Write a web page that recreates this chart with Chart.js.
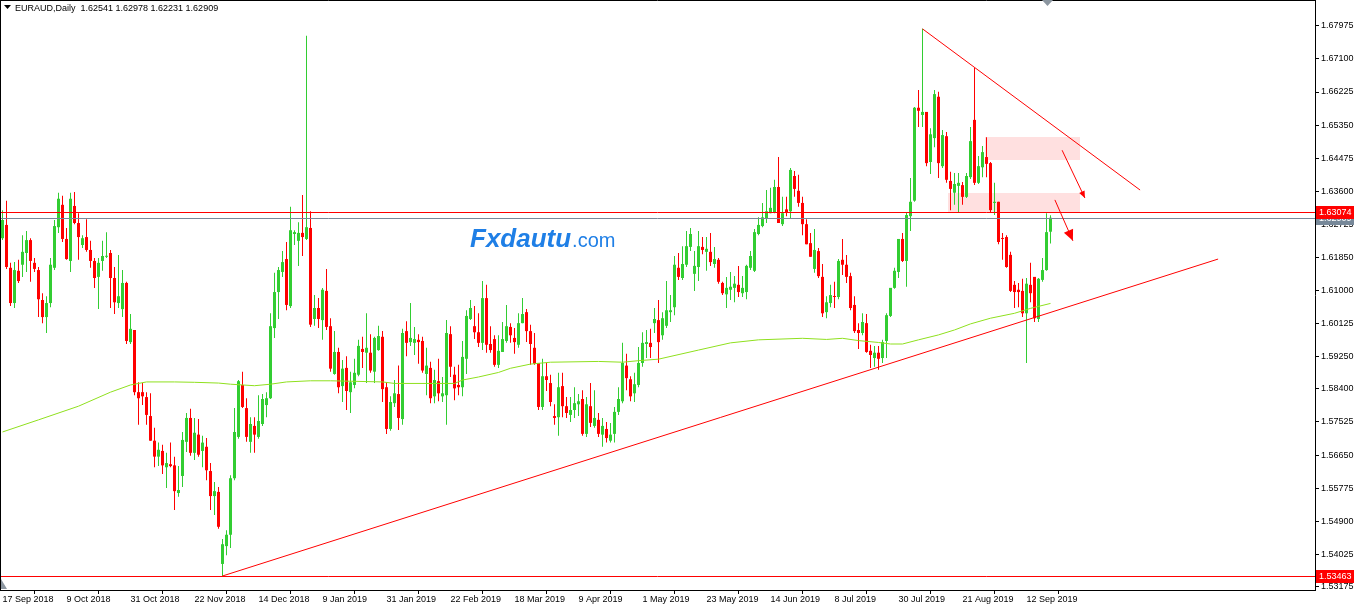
<!DOCTYPE html>
<html><head><meta charset="utf-8">
<script src="https://cdn.jsdelivr.net/npm/chart.js@4.4.1/dist/chart.umd.min.js"></script>
<style>html,body{margin:0;padding:0;background:#fff;overflow:hidden}canvas{display:block}</style>
</head><body>
<canvas id="c" width="1354" height="605"></canvas>
<script>
const symbolTitle = 'EURAUD,Daily';
const lastOHLC = [1.62541, 1.62978, 1.62231, 1.62909];

const openP = [
1.6237,1.6272,1.6159,1.6066,1.6151,1.6167,1.6198,1.6232,1.6172,1.6153,
1.6074,1.6029,1.6066,1.6159,1.6266,1.6325,1.6235,1.6177,1.6322,1.6277,
1.6219,1.6240,1.6206,1.6177,1.6135,1.6177,1.6188,1.6198,1.6132,1.6066,
1.6050,1.6119,1.5963,1.5995,1.5831,1.5831,1.5818,1.5768,1.5703,1.5661,
1.5676,1.5633,1.5641,1.5638,1.5565,1.5610,1.5700,1.5763,1.5671,1.5719,
1.5676,1.5687,1.5623,1.5557,1.5568,1.5378,1.5425,1.5455,1.5604,1.5713,
1.5850,1.5789,1.5700,1.5742,1.5713,1.5747,1.5797,1.5815,1.6000,1.6095,
1.6148,1.6182,1.6058,1.6248,1.6230,1.6251,1.6235,1.6264,1.6024,1.6053,
1.6021,1.6098,1.6005,1.5879,1.5937,1.5847,1.5895,1.5831,1.5850,1.5877,
1.5945,1.5935,1.5935,1.5885,1.5942,1.5977,1.5844,1.5734,1.5802,1.5826,
1.5760,1.5992,1.5963,1.5961,1.5969,1.5966,1.5879,1.5895,1.5820,1.5860,
1.5820,1.5823,1.5984,1.5877,1.5850,1.5844,1.5919,1.6024,1.6005,1.5989,
1.5961,1.6079,1.5958,1.5971,1.5903,1.5937,1.5966,1.6003,1.5974,1.5956,
1.6013,1.6042,1.5992,1.5948,1.5908,1.5792,1.5873,1.5855,1.5768,1.5765,
1.5847,1.5794,1.5771,1.5784,1.5799,1.5813,1.5721,1.5794,1.5742,1.5758,
1.5719,1.5734,1.5703,1.5721,1.5779,1.5807,1.5901,1.5865,1.5828,1.5850,
1.5908,1.5958,1.5961,1.6013,1.6021,1.5981,1.6006,1.6042,1.6055,1.6159,
1.6132,1.6167,1.6214,1.6143,1.6161,1.6214,1.6201,1.6201,1.6169,1.6180,
1.6119,1.6089,1.6101,1.6106,1.6114,1.6092,1.6095,1.6159,1.6151,1.6248,
1.6269,1.6290,1.6303,1.6306,1.6372,1.6274,1.6313,1.6308,1.6401,1.6362,
1.6330,1.6274,1.6224,1.6156,1.6203,1.6135,1.6042,1.6066,1.6084,1.6082,
1.6180,1.6167,1.6137,1.6061,1.5995,1.5987,1.6013,1.5940,1.5921,1.5935,
1.5921,1.5966,1.6032,1.6106,1.6148,1.6235,1.6177,1.6295,1.6336,1.6581,
1.6562,1.6570,1.6438,1.6501,1.6610,1.6427,1.6506,1.6388,1.6357,1.6375,
1.6377,1.6346,1.6398,1.6549,1.6383,1.6424,1.6451,1.6435,1.6330,1.6333,
1.6237,1.6240,1.6193,1.6114,1.6101,1.6098,1.6039,1.6114,1.6135,1.6024,
1.6127,1.6153,1.62541];

const highP = [
1.6311,1.6336,1.6172,1.6174,1.6180,1.6245,1.6256,1.6237,1.6185,1.6161,
1.6092,1.6084,1.6185,1.6285,1.6357,1.6349,1.6264,1.6357,1.6359,1.6303,
1.6245,1.6287,1.6230,1.6185,1.6185,1.6230,1.6253,1.6206,1.6161,1.6193,
1.6153,1.6122,1.6037,1.5995,1.5857,1.5855,1.5831,1.5828,1.5737,1.5698,
1.5692,1.5671,1.5698,1.5661,1.5636,1.5726,1.5776,1.5787,1.5763,1.5760,
1.5716,1.5710,1.5644,1.5594,1.5581,1.5444,1.5467,1.5612,1.5789,1.5863,
1.5885,1.5815,1.5765,1.5765,1.5823,1.5826,1.5831,1.6039,1.6146,1.6161,
1.6203,1.6227,1.6320,1.6258,1.6279,1.6351,1.6771,1.6308,1.6087,1.6079,
1.6106,1.6156,1.6026,1.5992,1.5948,1.5916,1.5926,1.5885,1.5919,1.5969,
1.5977,1.6039,1.5984,1.5977,1.6006,1.5992,1.5857,1.5820,1.5863,1.5901,
1.5998,1.6018,1.6066,1.6003,1.5984,1.5977,1.5948,1.5911,1.5890,1.5919,
1.5871,1.6021,1.6005,1.5898,1.5903,1.5966,1.6047,1.6074,1.6058,1.6039,
1.6124,1.6114,1.6005,1.5981,1.5981,1.6016,1.6061,1.6013,1.6000,1.6039,
1.6079,1.6050,1.6009,1.5987,1.5908,1.5919,1.5908,1.5877,1.5799,1.5882,
1.5882,1.5818,1.5818,1.5844,1.5826,1.5836,1.5818,1.5855,1.5836,1.5776,
1.5763,1.5752,1.5750,1.5792,1.5844,1.5961,1.5932,1.5873,1.5882,1.5950,
1.5989,1.5995,1.5998,1.6053,1.6074,1.6042,1.6124,1.6087,1.6190,1.6198,
1.6216,1.6256,1.6264,1.6203,1.6256,1.6240,1.6240,1.6251,1.6214,1.6185,
1.6122,1.6135,1.6148,1.6137,1.6164,1.6137,1.6167,1.6203,1.6261,1.6292,
1.6330,1.6364,1.6370,1.6391,1.6451,1.6346,1.6346,1.6422,1.6414,1.6404,
1.6346,1.6287,1.6251,1.6261,1.6211,1.6169,1.6084,1.6114,1.6122,1.6182,
1.6235,1.6193,1.6146,1.6084,1.6013,1.6039,1.6037,1.5956,1.5953,1.5953,
1.5969,1.6039,1.6106,1.6159,1.6235,1.6251,1.6306,1.6396,1.6583,1.6628,
1.6789,1.6570,1.6527,1.6628,1.6623,1.6522,1.6517,1.6412,1.6409,1.6409,
1.6385,1.6409,1.6530,1.6686,1.6454,1.6480,1.6503,1.6438,1.6383,1.6333,
1.6251,1.6245,1.6201,1.6124,1.6119,1.6130,1.6132,1.6172,1.6135,1.6132,
1.6185,1.6303,1.62978];

const lowP = [
1.6232,1.6156,1.6058,1.6053,1.6119,1.6135,1.6148,1.6122,1.6148,1.6029,
1.6013,1.5987,1.6055,1.6153,1.6251,1.6227,1.6180,1.6148,1.6274,1.6180,
1.6211,1.6201,1.6159,1.6106,1.6050,1.6151,1.6185,1.6053,1.6037,1.6053,
1.6029,1.5958,1.5958,1.5823,1.5745,1.5797,1.5745,1.5703,1.5633,1.5636,
1.5615,1.5578,1.5633,1.5520,1.5555,1.5581,1.5673,1.5663,1.5652,1.5661,
1.5633,1.5599,1.5520,1.5507,1.5471,1.53463,1.5401,1.5420,1.5599,1.5708,
1.5789,1.5700,1.5671,1.5671,1.5708,1.5742,1.5765,1.5813,1.5974,1.6024,
1.6135,1.6047,1.6053,1.6219,1.6164,1.6190,1.6232,1.6003,1.6006,1.6000,
1.5969,1.5995,1.5885,1.5877,1.5828,1.5805,1.5784,1.5776,1.5841,1.5873,
1.5895,1.5855,1.5882,1.5855,1.5940,1.5805,1.5721,1.5729,1.5792,1.5731,
1.5745,1.5926,1.5953,1.5929,1.5906,1.5882,1.5823,1.5802,1.5802,1.5807,
1.5805,1.5745,1.5871,1.5810,1.5823,1.5820,1.5879,1.6021,1.5971,1.5950,
1.5942,1.5935,1.5935,1.5898,1.5895,1.5937,1.5961,1.5961,1.5932,1.5948,
1.6013,1.5963,1.5903,1.5903,1.5784,1.5784,1.5834,1.5794,1.5745,1.5716,
1.5765,1.5763,1.5752,1.5763,1.5768,1.5716,1.5713,1.5739,1.5737,1.5713,
1.5687,1.5698,1.5698,1.5698,1.5771,1.5802,1.5836,1.5807,1.5805,1.5844,
1.5898,1.5921,1.5921,1.5987,1.5908,1.5969,1.6000,1.6016,1.6034,1.6127,
1.6127,1.6161,1.6203,1.6098,1.6124,1.6195,1.6151,1.6164,1.6159,1.6117,
1.6087,1.6053,1.6074,1.6068,1.6082,1.6082,1.6076,1.6153,1.6148,1.6245,
1.6266,1.6277,1.6303,1.6303,1.6277,1.6269,1.6295,1.6290,1.6346,1.6320,
1.6245,1.6221,1.6188,1.6146,1.6132,1.6029,1.6026,1.6055,1.6053,1.6076,
1.6140,1.6119,1.6047,1.5987,1.5945,1.5981,1.5935,1.5895,1.5898,1.5890,
1.5908,1.5921,1.6029,1.6104,1.6132,1.6174,1.6109,1.6256,1.6333,1.6530,
1.6530,1.6427,1.6406,1.6477,1.6396,1.6422,1.6383,1.6311,1.6325,1.6306,
1.6325,1.6343,1.6393,1.6377,1.6380,1.6398,1.6398,1.6306,1.6298,1.6221,
1.6180,1.6159,1.6095,1.6053,1.6055,1.6029,1.5908,1.6068,1.6016,1.6016,
1.6122,1.6151,1.62231];

const closeP = [
1.6285,1.6161,1.6066,1.6153,1.6124,1.6201,1.6232,1.6177,1.6156,1.6076,
1.6029,1.6066,1.6167,1.6269,1.6341,1.6235,1.6182,1.6341,1.6277,1.6240,
1.6237,1.6206,1.6177,1.6132,1.6172,1.6190,1.6190,1.6132,1.6068,1.6084,
1.6119,1.5966,1.5998,1.5831,1.5815,1.5820,1.5771,1.5703,1.5661,1.5679,
1.5638,1.5644,1.5636,1.5570,1.5573,1.5705,1.5763,1.5671,1.5724,1.5666,
1.5698,1.5625,1.5557,1.5570,1.5476,1.5430,1.5455,1.5604,1.5726,1.5860,
1.5792,1.5713,1.5747,1.5719,1.5755,1.5813,1.5815,1.6005,1.6095,1.6153,
1.6174,1.6061,1.6258,1.6253,1.6251,1.6240,1.6266,1.6009,1.6053,1.6024,
1.6101,1.6003,1.5893,1.5937,1.5844,1.5893,1.5834,1.5857,1.5882,1.5953,
1.5937,1.5948,1.5888,1.5974,1.5979,1.5839,1.5734,1.5805,1.5828,1.5763,
1.5987,1.5961,1.5974,1.5971,1.5963,1.5888,1.5901,1.5815,1.5863,1.5828,
1.5828,1.5987,1.5898,1.5841,1.5844,1.5924,1.6032,1.6053,1.5989,1.5961,
1.6079,1.5956,1.5942,1.5903,1.5940,1.5971,1.6005,1.5981,1.5963,1.6013,
1.6037,1.5992,1.5958,1.5906,1.5792,1.5873,1.5863,1.5805,1.5763,1.5844,
1.5794,1.5776,1.5784,1.5802,1.5807,1.5721,1.5799,1.5750,1.5763,1.5721,
1.5742,1.5710,1.5719,1.5779,1.5813,1.5908,1.5868,1.5820,1.5852,1.5908,
1.5961,1.5963,1.5950,1.6024,1.5963,1.6026,1.6047,1.6047,1.6167,1.6135,
1.6169,1.6216,1.6248,1.6164,1.6216,1.6206,1.6209,1.6174,1.6182,1.6122,
1.6092,1.6106,1.6109,1.6117,1.6095,1.6106,1.6164,1.6190,1.6253,1.6272,
1.6292,1.6308,1.6317,1.6372,1.6277,1.6303,1.6306,1.6417,1.6367,1.6330,
1.6274,1.6221,1.6188,1.6206,1.6137,1.6039,1.6068,1.6087,1.6082,1.6177,
1.6167,1.6135,1.6053,1.5992,1.5987,1.6016,1.5937,1.5929,1.5935,1.5919,
1.5963,1.6034,1.6106,1.6151,1.6235,1.6177,1.6298,1.6333,1.6581,1.6573,
1.6570,1.6435,1.6511,1.6617,1.6435,1.6509,1.6391,1.6367,1.6380,1.6383,
1.6346,1.6401,1.6493,1.6383,1.6427,1.6464,1.6433,1.6311,1.6333,1.6227,
1.6235,1.6161,1.6098,1.6095,1.6095,1.6039,1.6117,1.6092,1.6026,1.6130,
1.6153,1.6253,1.62909];

const xTickIdx = [1,17,33,49,65,81,97,113,129,145,161,177,193,209,225,241,257];
const xTickLabels = ['17 Sep 2018','9 Oct 2018','31 Oct 2018','22 Nov 2018','14 Dec 2018','9 Jan 2019','31 Jan 2019','22 Feb 2019','18 Mar 2019','9 Apr 2019','1 May 2019','23 May 2019','14 Jun 2019','8 Jul 2019','30 Jul 2019','21 Aug 2019','12 Sep 2019'];
const yTickValues = [1.67975,1.67100,1.66225,1.65350,1.64475,1.63600,1.62725,1.61850,1.61000,1.60125,1.59250,1.58400,1.57525,1.56650,1.55775,1.54900,1.54025,1.53175];

const maIdx = [1,10,20,28,33,37,44,49,55,58,64,68,72,78,83,96,99,110,114,116,120,125,128,133,138,150,156,160,165,175,183,190,201,207,211,215,220,223,226,230,235,239,243,248,254,258,263];
const maVal = [1.5726,1.5758,1.5794,1.5831,1.5850,1.5858,1.5858,1.5857,1.5855,1.5852,1.5848,1.5852,1.5858,1.5861,1.5861,1.5858,1.5854,1.5854,1.5854,1.5863,1.5871,1.5883,1.5894,1.5905,1.5910,1.5912,1.5910,1.5914,1.5918,1.5942,1.5961,1.5969,1.5973,1.5970,1.5973,1.5967,1.5962,1.5958,1.5958,1.5969,1.5982,1.5995,1.6011,1.6026,1.6039,1.6052,1.6065];

const supportLine = [[56, 1.53463], [304.9, 1.6182]];
const resistLine = [[231, 1.6789], [285.4, 1.6364]];
const zoneA = [246.6, 270.4, 1.6504, 1.6443];
const zoneB = [237.4, 270.4, 1.6357, 1.63074];
const arrowA = [265.9, 1.6469, 271.6, 1.6343];
const arrowB = [264.1, 1.6338, 268.6, 1.6230];
const levelLines = [1.63074, 1.62909, 1.53463];

const FONT = '"Liberation Sans", Arial, sans-serif';
Chart.defaults.font.family = FONT;
Chart.defaults.font.size = 9;
Chart.defaults.color = '#000';

const UP = '#32cd32', DOWN = '#ff0000';
const idx = openP.map((_, k) => k + 1);
const candleColor = idx.map((_, k) => closeP[k] >= openP[k] ? UP : DOWN);

function clipArea(ctx, a) {
  ctx.beginPath(); ctx.rect(a.left, a.top, a.right - a.left, a.bottom - a.top); ctx.clip();
}

const overlay = {
  id: 'overlay',
  beforeDatasetsDraw(chart) {
    const {ctx, chartArea: a, scales: {x, y}} = chart;
    ctx.save(); clipArea(ctx, a);
    ctx.fillStyle = '#ffe0e0';
    for (const z of [zoneA, zoneB]) {
      const x0 = Math.round(x.getPixelForValue(z[0])), x1 = Math.round(x.getPixelForValue(z[1]));
      const y0 = Math.round(y.getPixelForValue(z[2])), y1 = Math.round(y.getPixelForValue(z[3]));
      ctx.fillRect(x0, y0, x1 - x0, y1 - y0);
    }
    ctx.textBaseline = 'alphabetic';
    ctx.fillStyle = '#1f7fe6';
    ctx.font = 'italic bold 26px ' + FONT;
    ctx.fillText('Fxdautu', 470, 247);
    const w = ctx.measureText('Fxdautu').width;
    ctx.font = '20px ' + FONT;
    ctx.fillText('.com', 471 + w, 247);
    ctx.restore();
  },
  afterDatasetsDraw(chart) {
    const {ctx, chartArea: a, scales: {x, y}} = chart;
    ctx.save(); clipArea(ctx, a);
    ctx.lineWidth = 1;
    const lineCols = ['#ff0000', '#778899', '#ff0000'];
    levelLines.forEach((v, k) => {
      const yy = Math.round(y.getPixelForValue(v)) + 0.5;
      ctx.strokeStyle = lineCols[k];
      ctx.beginPath(); ctx.moveTo(a.left, yy); ctx.lineTo(a.right, yy); ctx.stroke();
    });
    ctx.strokeStyle = '#ff0000';
    for (const t of [supportLine, resistLine]) {
      ctx.beginPath();
      ctx.moveTo(x.getPixelForValue(t[0][0]), y.getPixelForValue(t[0][1]));
      ctx.lineTo(x.getPixelForValue(t[1][0]), y.getPixelForValue(t[1][1]));
      ctx.stroke();
    }
    ctx.fillStyle = '#ff0000';
    [[arrowA, 7, 3], [arrowB, 11, 5]].forEach(([ar, L, W]) => {
      const x0 = x.getPixelForValue(ar[0]), y0 = y.getPixelForValue(ar[1]);
      const x1 = x.getPixelForValue(ar[2]), y1 = y.getPixelForValue(ar[3]);
      const ang = Math.atan2(y1 - y0, x1 - x0);
      ctx.beginPath(); ctx.moveTo(x0, y0); ctx.lineTo(x1, y1); ctx.stroke();
      const bx = x1 - L * Math.cos(ang), by = y1 - L * Math.sin(ang);
      ctx.beginPath();
      ctx.moveTo(x1, y1);
      ctx.lineTo(bx + W * Math.sin(ang), by - W * Math.cos(ang));
      ctx.lineTo(bx - W * Math.sin(ang), by + W * Math.cos(ang));
      ctx.closePath(); ctx.fill();
    });
    ctx.restore();
  },
  afterDraw(chart) {
    const {ctx, chartArea: a, scales: {y}} = chart;
    ctx.save();
    ctx.strokeStyle = '#000'; ctx.lineWidth = 1;
    ctx.beginPath(); ctx.moveTo(0.5, 0); ctx.lineTo(0.5, a.bottom); ctx.stroke();
    ctx.beginPath(); ctx.moveTo(0, 0.5); ctx.lineTo(a.right, 0.5); ctx.stroke();
    ctx.fillStyle = '#8c96a0';
    ctx.beginPath(); ctx.moveTo(1042, 0); ctx.lineTo(1053, 0); ctx.lineTo(1047.5, 6); ctx.closePath(); ctx.fill();
    ctx.beginPath(); ctx.moveTo(1, 579); ctx.lineTo(1, 589); ctx.lineTo(7, 589); ctx.closePath(); ctx.fill();
    ctx.fillStyle = '#000';
    ctx.beginPath(); ctx.moveTo(4, 5); ctx.lineTo(11, 5); ctx.lineTo(7.5, 9); ctx.closePath(); ctx.fill();
    ctx.font = '9px ' + FONT; ctx.textBaseline = 'alphabetic';
    ctx.fillText(symbolTitle + '  ' + lastOHLC.map(v => v.toFixed(5)).join(' '), 15, 11);
    const boxes = [[levelLines[1], '#778899'], [levelLines[0], '#ff0000'], [levelLines[2], '#ff0000']];
    for (const [v, col] of boxes) {
      const yy = Math.round(y.getPixelForValue(v));
      ctx.fillStyle = col;
      ctx.fillRect(a.right + 1, yy - 6, 1354 - a.right - 1, 13);
      ctx.fillStyle = '#fff';
      ctx.textBaseline = 'middle';
      ctx.fillText(v.toFixed(5), a.right + 4, yy + 1);
    }
    ctx.restore();
  }
};

new Chart(document.getElementById('c'), {
  data: {
    datasets: [
      { type: 'line', order: 0, data: maIdx.map((v, k) => ({x: v, y: maVal[k]})),
        borderColor: '#8fe01e', borderWidth: 1, pointRadius: 0, tension: 0 },
      { type: 'bar', order: 1, data: idx.map((v, k) => ({x: v, y: [openP[k], closeP[k]]})),
        backgroundColor: candleColor, barThickness: 3, grouped: false, minBarLength: 1, inflateAmount: 0, borderWidth: 0 },
      { type: 'bar', order: 2, data: idx.map((v, k) => ({x: v, y: [lowP[k], highP[k]]})),
        backgroundColor: candleColor, barThickness: 1, grouped: false, inflateAmount: 0, borderWidth: 0 }
    ]
  },
  options: {
    responsive: false, animation: false, devicePixelRatio: 1,
    layout: { padding: 0 },
    plugins: { legend: { display: false }, tooltip: { enabled: false } },
    scales: {
      x: {
        type: 'linear', position: 'bottom', min: 0.375, max: 329.125, offset: false,
        grid: { drawOnChartArea: false, drawTicks: true, tickLength: 4, color: '#000' },
        border: { display: true, color: '#000' },
        ticks: { align: 'start', padding: 0, autoSkip: false, maxRotation: 0, color: '#000',
          callback: v => { const k = xTickIdx.indexOf(v); return k >= 0 ? xTickLabels[k] : ''; } },
        afterBuildTicks: s => { s.ticks = xTickIdx.map(v => ({value: v})); },
        afterFit: s => { s.height = 15; s.paddingLeft = 0; s.paddingRight = 0; }
      },
      y: {
        type: 'linear', position: 'right', min: 1.530930, max: 1.686513,
        grid: { drawOnChartArea: false, drawTicks: true, tickLength: 4, color: '#000' },
        border: { display: true, color: '#000' },
        ticks: { padding: 2, color: '#000', callback: v => Number(v).toFixed(5) },
        afterBuildTicks: s => { s.ticks = yTickValues.map(v => ({value: v})); },
        afterFit: s => { s.width = 39; s.paddingTop = 0; s.paddingBottom = 0; }
      }
    }
  },
  plugins: [overlay]
});
</script>
</body></html>
